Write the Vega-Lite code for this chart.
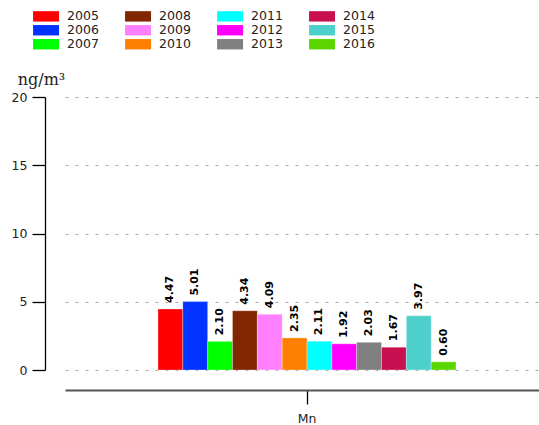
{
  "$schema": "https://vega.github.io/schema/vega-lite/v6.json",
  "width": 484,
  "height": 273,
  "autosize": "none",
  "padding": {"left": 65, "top": 97, "right": 0, "bottom": 55},
  "background": "white",
  "config": {"view": {"stroke": null}, "font": "DejaVu Sans"},
  "data": {"values": [
    {"element": "Mn", "year": "2005", "value": 4.47},
    {"element": "Mn", "year": "2006", "value": 5.01},
    {"element": "Mn", "year": "2007", "value": 2.10},
    {"element": "Mn", "year": "2008", "value": 4.34},
    {"element": "Mn", "year": "2009", "value": 4.09},
    {"element": "Mn", "year": "2010", "value": 2.35},
    {"element": "Mn", "year": "2011", "value": 2.11},
    {"element": "Mn", "year": "2012", "value": 1.92},
    {"element": "Mn", "year": "2013", "value": 2.03},
    {"element": "Mn", "year": "2014", "value": 1.67},
    {"element": "Mn", "year": "2015", "value": 3.97},
    {"element": "Mn", "year": "2016", "value": 0.60}
  ]},
  "encoding": {
    "x": {"field": "element", "type": "nominal",
      "scale": {"paddingInner": 0, "paddingOuter": 0.312},
      "axis": {"title": null, "labelAngle": 0, "offset": 20, "domainColor": "#555", "domainWidth": 2,
        "tickSize": 14, "tickColor": "black", "tickWidth": 1.3, "labelFontSize": 12.5, "labelColor": "#222", "labelPadding": 8}},
    "xOffset": {"field": "year", "type": "nominal",
      "scale": {"domain": ["2005","2006","2007","2008","2009","2010","2011","2012","2013","2014","2015","2016"], "paddingInner": 0, "paddingOuter": 0}},
    "y": {"field": "value", "type": "quantitative",
      "scale": {"domain": [0, 20]},
      "axis": {"values": [0, 5, 10, 15, 20], "offset": 20, "tickSize": 13, "tickColor": "black", "tickWidth": 1.3,
        "domainColor": "black", "domainWidth": 1.3, "labelFontSize": 12.5, "labelColor": "#222", "labelPadding": 5,
        "grid": true, "gridDash": [3, 7], "gridColor": "#aaa",
        "title": "ng/m³", "titleAngle": 0, "titleFont": "DejaVu Serif", "titleFontWeight": "normal", "titleFontSize": 16,
        "titleColor": "#222", "titleAlign": "center", "titleBaseline": "alphabetic", "titleX": -4, "titleY": -13}}
  },
  "layer": [
    {
      "mark": {"type": "bar", "stroke": "white", "strokeWidth": 0.5, "strokeOpacity": 0.6},
      "encoding": {
        "color": {"field": "year", "type": "nominal",
          "scale": {
            "domain": ["2005","2006","2007","2008","2009","2010","2011","2012","2013","2014","2015","2016"],
            "range": ["#ff0000","#0033ff","#00ff00","#802600","#ff80ff","#ff8000","#00ffff","#ff00ff","#808080","#c80f50","#4dd0cc","#5cd600"]
          },
          "legend": {"title": null, "orient": "none", "legendX": -25.2, "legendY": -87, "columns": 4, "padding": 0,
            "rowPadding": 1, "columnPadding": 25, "labelOffset": 14.8, "labelFontSize": 12.5, "labelColor": "#222",
            "symbolType": "M-2.5,-1L2.5,-1L2.5,1L-2.5,1Z", "symbolSize": 108, "symbolStrokeWidth": 0}
        }
      }
    },
    {
      "mark": {"type": "text", "angle": 270, "align": "left", "baseline": "middle", "dx": 6,
        "fontWeight": "bold", "fontSize": 11, "color": "black"},
      "encoding": {"text": {"field": "value", "type": "quantitative", "format": ".2f"}}
    }
  ]
}
